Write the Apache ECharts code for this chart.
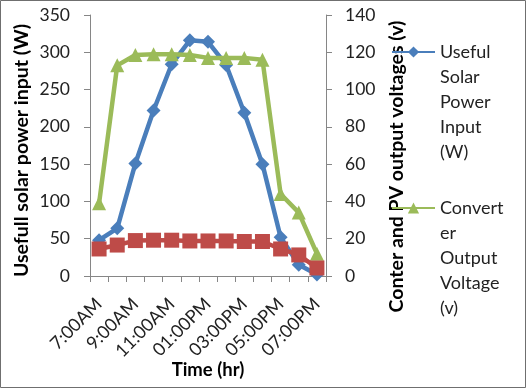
<!DOCTYPE html>
<html><head><meta charset="utf-8">
<script src="https://cdn.jsdelivr.net/npm/echarts@6/dist/echarts.min.js"></script>
<style>html,body{margin:0;padding:0;background:#fff}#c{width:526px;height:388px}</style>
</head><body><div id="c"></div>
<script>
const categories = ['7:00AM','8:00AM','9:00AM','10:00AM','11:00AM','12:00PM','01:00PM','02:00PM','03:00PM','04:00PM','05:00PM','06:00PM','07:00PM'];
const solarPower = [48, 64, 151, 222, 284, 316, 314, 283, 219, 150, 52, 15, 2];
const converterVoltage = [39, 113, 118.5, 119, 119, 118.5, 117, 117, 117, 116, 44, 34, 12];
const pvVoltage = [14.5, 16.6, 19, 19.2, 19.2, 18.8, 18.8, 18.8, 18.5, 18.5, 14.5, 11.3, 4.3];
const leftTicks = {min: 0, max: 350, interval: 50};
const rightTicks = {min: 0, max: 140, interval: 20};
const names = {
  power: 'Useful Solar Power Input (W)',
  conv: 'Converter Output Voltage (v)',
  pv: 'PV Output Voltage (v)'
};
const legendLines = {};
legendLines[names.power] = ['Useful', 'Solar', 'Power', 'Input', '(W)'];
legendLines[names.conv] = ['Convert', 'er', 'Output', 'Voltage', '(v)'];

const FONT = 'Lato';
const axisGray = '#868686';
const LH = 25;
const chart = echarts.init(document.getElementById('c'), null, {renderer: 'canvas'});
// blank lines before the label keep the legend icon level with its first line
const legendFmt = n => '\n\n\n\n' + legendLines[n].join('\n');
const legendCommon = {
  orient: 'vertical', left: 391, itemWidth: 43, itemHeight: 14, selectedMode: false, padding: 0,
  formatter: legendFmt,
  textStyle: {fontFamily: FONT, fontSize: 18, color: '#222', lineHeight: LH}
};
chart.setOption({
  animation: false,
  backgroundColor: '#fff',
  grid: {left: 90, right: 200, top: 15, bottom: 112, containLabel: false},
  legend: [
    Object.assign({}, legendCommon, {top: 52 - 4.5 * LH, data: [names.power]}),
    Object.assign({}, legendCommon, {top: 208 - 4.5 * LH, data: [names.conv]})
  ],
  graphic: [{type: 'rect', shape: {x: 0.5, y: 0.5, width: 525, height: 387}, style: {fill: 'none', stroke: '#6f6f6f', lineWidth: 1}, z: 100}],
  xAxis: {
    type: 'category', data: categories, boundaryGap: true,
    name: 'Time (hr)', nameLocation: 'middle', nameGap: 85, nameMoveOverlap: false,
    nameTextStyle: {fontFamily: FONT, fontSize: 18.5, fontWeight: 'bold', color: '#000'},
    axisLine: {lineStyle: {color: axisGray, width: 1}},
    axisTick: {show: true, interval: 0, length: 6, lineStyle: {color: axisGray}},
    axisLabel: {interval: 1, rotate: 45, margin: 25, fontFamily: FONT, fontSize: 18, color: '#222'},
    splitLine: {show: false}
  },
  yAxis: [{
    type: 'value', position: 'left', min: leftTicks.min, max: leftTicks.max, interval: leftTicks.interval,
    name: 'Usefull solar power input (W)', nameLocation: 'middle', nameGap: 58, nameRotate: 90, nameMoveOverlap: false,
    nameTextStyle: {fontFamily: FONT, fontSize: 19.5, fontWeight: 'bold', color: '#000', padding: [0, 10, 0, 0]},
    axisLine: {show: true, lineStyle: {color: axisGray}},
    axisTick: {show: true, length: 6, lineStyle: {color: axisGray}},
    axisLabel: {margin: 20, fontFamily: FONT, fontSize: 17.5, color: '#222'},
    splitLine: {show: false}
  }, {
    type: 'value', position: 'right', min: rightTicks.min, max: rightTicks.max, interval: rightTicks.interval,
    name: 'Conter and PV output voltages (v)', nameLocation: 'middle', nameGap: 61, nameRotate: 90, nameMoveOverlap: false,
    nameTextStyle: {fontFamily: FONT, fontSize: 19.5, fontWeight: 'bold', color: '#000', padding: [0, 42, 0, 0]},
    axisLine: {show: true, lineStyle: {color: axisGray}},
    axisTick: {show: true, length: 6, lineStyle: {color: axisGray}},
    axisLabel: {margin: 19, fontFamily: FONT, fontSize: 17.5, color: '#222'},
    splitLine: {show: false}
  }],
  series: [{
    name: names.power, type: 'line', yAxisIndex: 0, data: solarPower, showAllSymbol: true,
    symbol: 'diamond', symbolSize: 14, lineStyle: {color: '#4A7EBB', width: 4.5},
    itemStyle: {color: '#4A7EBB'}, z: 2
  }, {
    name: names.conv, type: 'line', yAxisIndex: 1, data: converterVoltage, showAllSymbol: true,
    symbol: 'triangle', symbolSize: 14, lineStyle: {color: '#9BBB59', width: 4.5},
    itemStyle: {color: '#9BBB59'}, z: 3
  }, {
    name: names.pv, type: 'line', yAxisIndex: 1, data: pvVoltage, showAllSymbol: true,
    symbol: 'rect', symbolSize: 15, lineStyle: {color: '#BE4B48', width: 4.5},
    itemStyle: {color: '#BE4B48'}, z: 4
  }]
});
</script></body></html>
